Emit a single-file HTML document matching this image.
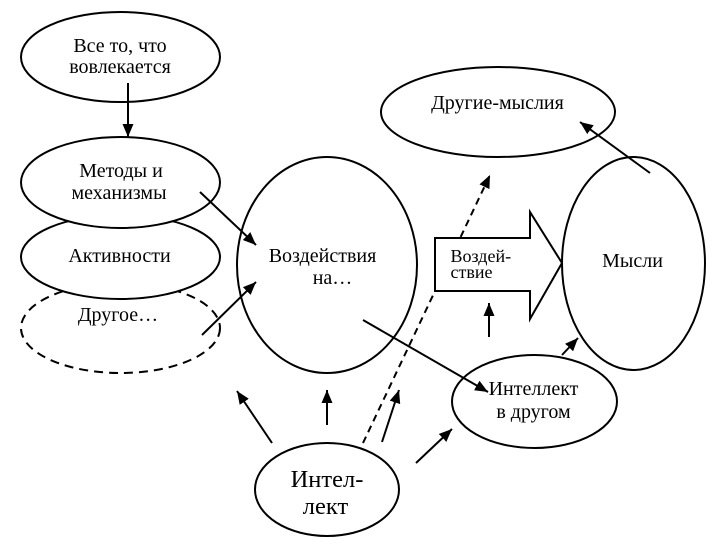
<!DOCTYPE html>
<html><head><meta charset="utf-8"><style>
html,body{margin:0;padding:0;background:#fff;}
svg{display:block;}
text{font-family:"Liberation Serif","DejaVu Serif",serif;font-size:20px;fill:#000;}
</style></head><body>
<svg width="717" height="545" viewBox="0 0 717 545" xmlns="http://www.w3.org/2000/svg">
<defs>
<marker id="ah" markerUnits="userSpaceOnUse" markerWidth="14" markerHeight="12" refX="13" refY="5.5" orient="auto">
<path d="M0,0 L13,5.5 L0,11 z" fill="#000"/>
</marker>
</defs>
<g fill="#fff" stroke="#000" stroke-width="2">
<ellipse cx="120.5" cy="328" rx="99.5" ry="45" stroke-dasharray="9,6"/>
<ellipse cx="120.5" cy="257" rx="99.5" ry="42"/>
<ellipse cx="120.5" cy="182.5" rx="99.5" ry="45.5"/>
<ellipse cx="120.5" cy="57" rx="99.5" ry="45"/>
<ellipse cx="327" cy="265" rx="90" ry="108"/>
<ellipse cx="498" cy="112" rx="117" ry="45"/>
<ellipse cx="633.5" cy="263.5" rx="71.5" ry="106.5"/>
<ellipse cx="534.5" cy="401.5" rx="82.5" ry="46.5"/>
<ellipse cx="327" cy="489.5" rx="72" ry="46.5"/>
</g>
<g stroke="#000" stroke-width="2" fill="none">
<line x1="128" y1="83" x2="128" y2="137" marker-end="url(#ah)"/>
<line x1="200" y1="192" x2="256" y2="245" marker-end="url(#ah)"/>
<line x1="202" y1="335" x2="256" y2="282" marker-end="url(#ah)"/>
<line x1="363" y1="320" x2="488" y2="392" marker-end="url(#ah)"/>
<line x1="650" y1="173" x2="580" y2="122" marker-end="url(#ah)"/>
<line x1="363" y1="443" x2="490" y2="175" stroke-dasharray="7,5" marker-end="url(#ah)"/>
<line x1="489" y1="337" x2="489" y2="303" marker-end="url(#ah)"/>
<line x1="562" y1="355" x2="578" y2="338" marker-end="url(#ah)"/>
<line x1="272" y1="443" x2="237" y2="391" marker-end="url(#ah)"/>
<line x1="327" y1="425" x2="327" y2="390" marker-end="url(#ah)"/>
<line x1="382" y1="442" x2="399" y2="390" marker-end="url(#ah)"/>
<line x1="416" y1="463" x2="452" y2="429" marker-end="url(#ah)"/>
</g>
<polygon points="435,238 530,238 530,212 562,263 530,319 530,291 435,291" fill="#fff" stroke="#000" stroke-width="2"/>
<text x="120" y="52" text-anchor="middle">Все то, что</text>
<text x="120" y="73" text-anchor="middle">вовлекается</text>
<text x="121" y="177" text-anchor="middle">Методы и</text>
<text x="119" y="199" text-anchor="middle">механизмы</text>
<text x="119.5" y="262" text-anchor="middle">Активности</text>
<text x="118" y="321" text-anchor="middle">Другое…</text>
<text x="322.5" y="262" text-anchor="middle">Воздействия</text>
<text x="332.5" y="284" text-anchor="middle">на…</text>
<text x="497.5" y="109" text-anchor="middle">Другие-мыслия</text>
<text x="450.5" y="262" style="font-size:18px">Воздей-</text>
<text x="450.5" y="278" style="font-size:18px">ствие</text>
<text x="632.5" y="267" text-anchor="middle">Мысли</text>
<text x="533.5" y="395" text-anchor="middle">Интеллект</text>
<text x="533.5" y="418" text-anchor="middle">в другом</text>
<text x="327" y="487" text-anchor="middle" style="font-size:24.5px">Интел-</text>
<text x="325.5" y="514" text-anchor="middle" style="font-size:24.5px">лект</text>
</svg>
</body></html>
